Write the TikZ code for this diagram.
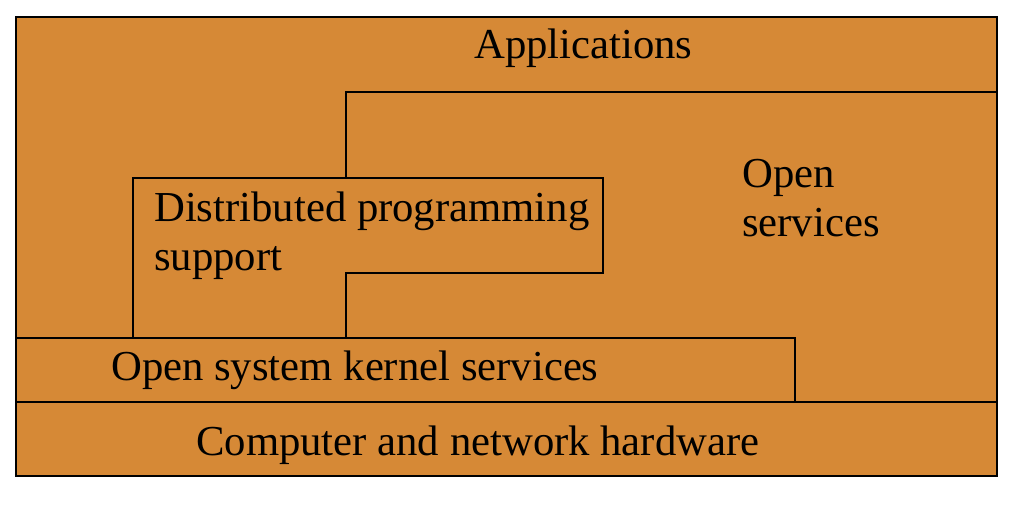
\documentclass[tikz,border=0pt]{standalone}
\usepackage{fontspec}
\setmainfont{Liberation Serif}
\usetikzlibrary{positioning}
\definecolor{layerorange}{RGB}{214,137,54}
\tikzset{
    outerbox/.style = {draw=black,line width=1.6pt,fill=layerorange},
    layerline/.style = {draw=black,line width=1.3pt},
    layertext/.style = {anchor=base west,inner sep=0pt,font=\fontsize{42.7}{48}\selectfont}
}
\begin{document}
\begin{tikzpicture}[x=1pt,y=-1pt]
  \useasboundingbox (0,0) rectangle (1012,510);
  \draw[outerbox] (16,17) rectangle (997,476);

  % open services
  \draw[layerline] (997,92) -- (346,92) -- (346,178);
  % distributed programming support
  \draw[layerline] (133,338) -- (133,178) -- (603,178) -- (603,273) -- (346,273) -- (346,338);
  % kernel
  \draw[layerline] (16,338) -- (795,338) -- (795,402);
  % hardware
  \draw[layerline] (16,402) -- (997,402);

  \node[layertext] (apps) at (474,59) {Applications};
  \node[layertext] (open1) at (742,188) {Open};
  \node[layertext] (open2) at ([yshift=-48.5pt]open1.base west) {services};
  \node[layertext] (dps1) at (154,222) {Distributed programming};
  \node[layertext] (dps2) at ([yshift=-48.5pt]dps1.base west) {support};
  \node[layertext] (kernel) at (111,381) {Open system kernel services};
  \node[layertext] (hw) at (196,455) {Computer and network hardware};
 \end{tikzpicture}
\end{document}
